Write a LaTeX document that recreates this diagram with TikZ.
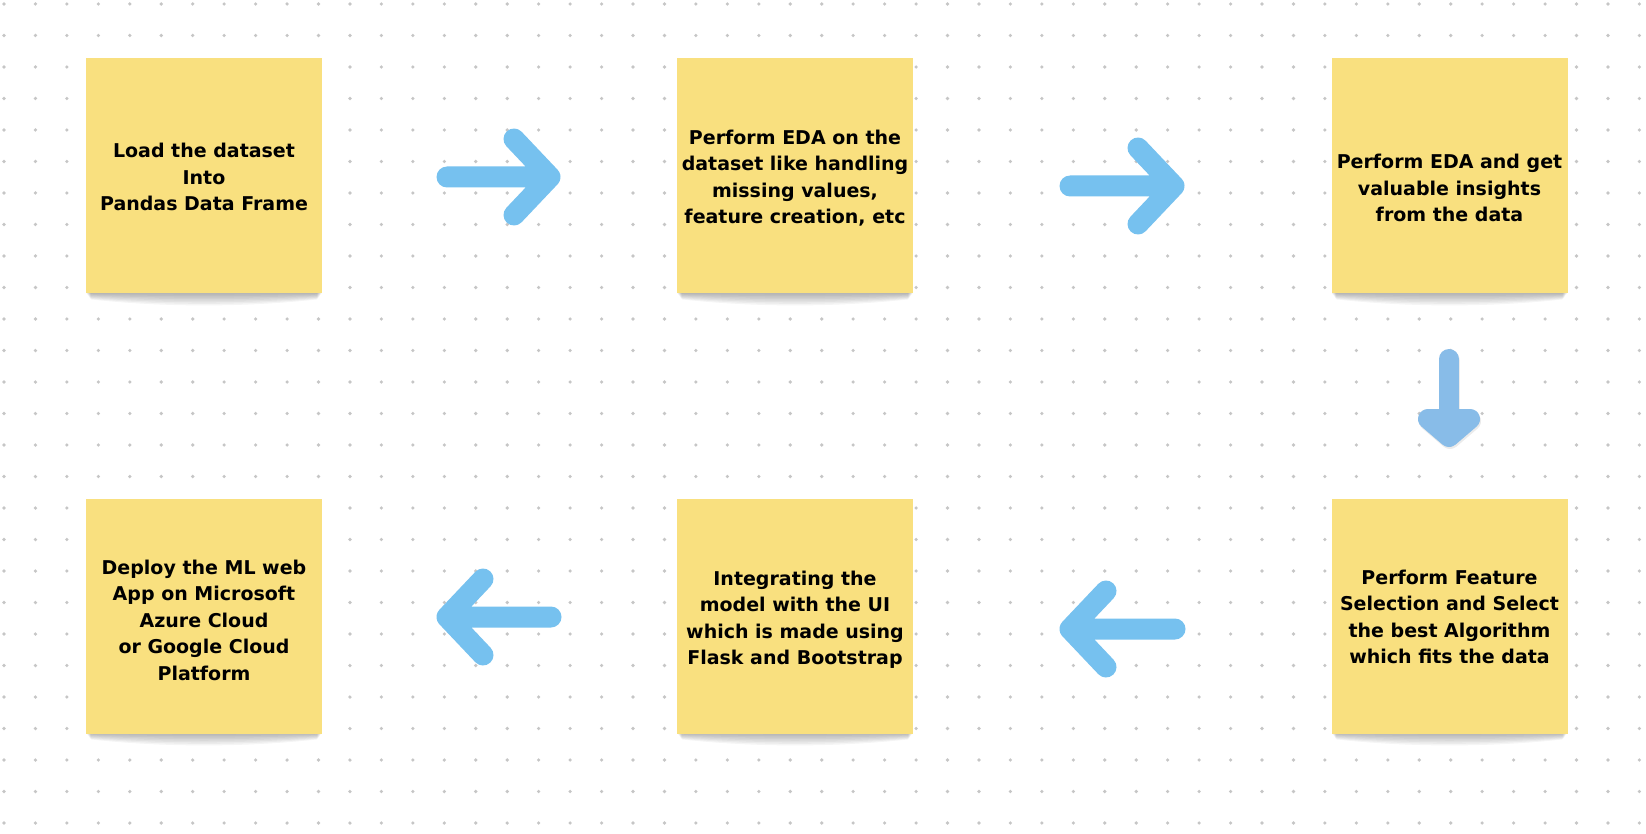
\documentclass[tikz,border=0pt]{standalone}
\usepackage{fontspec}
\newfontfamily\notefont{DejaVu Sans}
\usepackage{xcolor}
\usetikzlibrary{calc}

\definecolor{noteyellow}{HTML}{F9E07F}
\definecolor{flowblue}{HTML}{76C1EF}
\definecolor{downblue}{HTML}{88BCE8}
\definecolor{dotgray}{HTML}{C6C6C6}

\begin{document}
\begin{tikzpicture}[
		x=1pt, y=-1pt,
		every node/.style={inner sep=0pt},
		note/.style={fill=noteyellow, minimum width=236pt, minimum height=235pt},
		note text/.style={align=center, text=black, font=\notefont\bfseries\fontsize{19}{26.5}\selectfont},
		note shadow/.style={black, opacity=0.04},
		flow/.style={draw=flowblue, line width=21pt, line cap=round, line join=round},
		down flow/.style={draw=downblue, line width=20pt, line cap=round, line join=round}
		]

	% Board
	\fill[white] (0, 0) rectangle (1646, 834);
	\useasboundingbox (0, 0) rectangle (1646, 834);

	% Dots
	\foreach \i in {0, 1,...,52}{
		\foreach \j in {0, 1,...,26}{
			\fill[dotgray] (4+31.45*\i, 4+31.5*\j) circle (1.8);
		}
	}

	% Shadows under the notes
	\foreach \cx/\cy in {204/176, 795/176, 1449.5/176, 204/616, 795/616, 1449.5/616}{
		\foreach \k in {1, 2,...,8}{
			\fill[note shadow] (\cx-118+\k*0.6, \cy+100) -- (\cx-118+\k*0.6, \cy+117+\k*0.8)
				.. controls (\cx-40, \cy+117+\k*1.8) and (\cx+40, \cy+117+\k*1.8) .. (\cx+118-\k*0.6, \cy+117+\k*0.8)
				-- (\cx+118-\k*0.6, \cy+100) -- cycle;
		}
	}

	% Notes, top row
	\node[note] (n1) at (204, 176) {};
	\node[note] (n2) at (795, 176) {};
	\node[note] (n3) at (1449.5, 176) {};

	% Notes, bottom row
	\node[note] (n4) at (1449.5, 616) {};
	\node[note] (n5) at (795, 616) {};
	\node[note] (n6) at (204, 616) {};

	% Texts
	\node[note text] (t1) at ([yshift=-1pt]n1.center) {Load the dataset\\Into\\Pandas Data Frame};
	\node[note text] (t2) at ([yshift=-2pt]n2.center) {Perform EDA on the\\dataset like handling\\missing values,\\feature creation, etc};
	\node[note text] (t3) at ([yshift=-12pt]n3.center) {Perform EDA and get\\valuable insights\\from the data};
	\node[note text] (t4) at ([yshift=-1pt]n4.center) {Perform Feature\\Selection and Select\\the best Algorithm\\which fits the data};
	\node[note text] (t5) at ([yshift=-4pt]n5.center) {Integrating the\\model with the UI\\which is made using\\Flask and Bootstrap};
	\node[note text] (t6) at ([yshift=-4pt]n6.center) {Deploy the ML web\\App on Microsoft\\Azure Cloud\\or Google Cloud\\Platform};

	% Arrow ends
	\coordinate (r1a) at (447, 177);
	\coordinate (r1b) at (550, 177);
	\coordinate (r2a) at (1070, 186);
	\coordinate (r2b) at (1174, 186);
	\coordinate (d1a) at (1449, 359);
	\coordinate (d1b) at (1449, 421);
	\coordinate (l1a) at (1175, 629);
	\coordinate (l1b) at (1070, 629);
	\coordinate (l2a) at (551, 617);
	\coordinate (l2b) at (447, 617);

	% Right arrows
	\draw[flow] (r1a) -- (r1b) -- ++(-36, -38) (r1b) -- ++(-36, 38);
	\draw[flow] (r2a) -- (r2b) -- ++(-36, -38) (r2b) -- ++(-36, 38);

	% Down arrow
	\draw[down flow, draw=black, opacity=0.08] ($(d1a)+(1,2)$) -- ($(d1b)+(1,2)$);
	\draw[down flow, draw=black, fill=black, opacity=0.08] ($(d1b)+(-20,0)$) -- ($(d1b)+(1,18)$) -- ($(d1b)+(22,0)$) -- cycle;
	\draw[down flow] (d1a) -- (d1b);
	\draw[down flow, fill=downblue] ($(d1b)+(-21,-2)$) -- ($(d1b)+(0,16)$) -- ($(d1b)+(21,-2)$) -- cycle;

	% Left arrows
	\draw[flow] (l1a) -- (l1b) -- ++(36, -38) (l1b) -- ++(36, 38);
	\draw[flow] (l2a) -- (l2b) -- ++(36, -38) (l2b) -- ++(36, 38);

\end{tikzpicture}
\end{document}
